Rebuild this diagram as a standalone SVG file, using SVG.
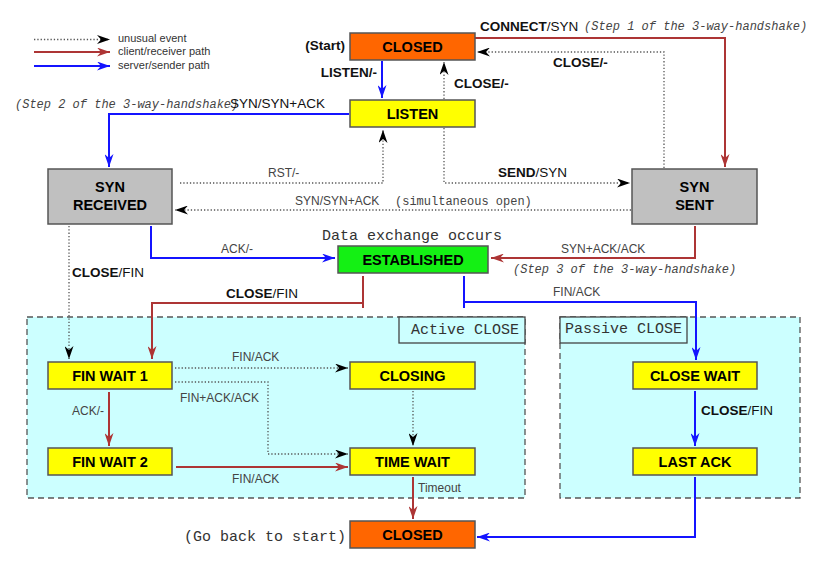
<svg xmlns="http://www.w3.org/2000/svg" width="835" height="562" viewBox="0 0 835 562">
<style>
.node rect{stroke:#555;stroke-width:1.5}
.ntext{font-family:"Liberation Sans",Arial,sans-serif;font-weight:bold;font-size:14.5px;fill:#000;text-anchor:middle}
.closed{fill:#ff6600}
.yellow{fill:#ffff00}
.gray{fill:#c0c0c0}
.green{fill:#14f014}
.cluster{fill:#ccffff;stroke:#555;stroke-width:1.3;stroke-dasharray:6,4}
.clabel{fill:#ccffff;stroke:#444;stroke-width:1.3}
.red{fill:none;stroke:#ad3535;stroke-width:2}
.blue{fill:none;stroke:#1414ff;stroke-width:2}
.dot{fill:none;stroke:#555;stroke-width:1.3;stroke-dasharray:1.3,2}
.bl{font-family:"Liberation Sans",Arial,sans-serif;font-size:13.5px;fill:#111}
.b{font-weight:bold}
.gl{font-family:"Liberation Sans",Arial,sans-serif;font-size:12px;fill:#444}
.mono{font-family:"Liberation Mono","Courier New",monospace;fill:#333}
.step{font-family:"Liberation Mono","Courier New",monospace;font-style:italic;font-size:12px;fill:#444}
.sim{font-family:"Liberation Mono","Courier New",monospace;font-size:12px;fill:#444}
.leg{font-family:"Liberation Sans",Arial,sans-serif;font-size:11px;fill:#333}
</style>
<defs>
<marker id="ar" viewBox="0 0 13 9" refX="13" refY="4.5" markerWidth="13" markerHeight="9" markerUnits="userSpaceOnUse" orient="auto"><path d="M0,0 L13,4.5 L0,9 L4,4.5 z" fill="#ad3535"/></marker>
<marker id="ab" viewBox="0 0 13 9" refX="13" refY="4.5" markerWidth="13" markerHeight="9" markerUnits="userSpaceOnUse" orient="auto"><path d="M0,0 L13,4.5 L0,9 L4,4.5 z" fill="#1414ff"/></marker>
<marker id="ak" viewBox="0 0 13 9" refX="13" refY="4.5" markerWidth="13" markerHeight="9" markerUnits="userSpaceOnUse" orient="auto"><path d="M0,0 L13,4.5 L0,9 L4,4.5 z" fill="#000"/></marker>
</defs>
<rect width="835" height="562" fill="#fff"/>

<g id="clusters">
<rect class="cluster" x="27" y="317" width="498" height="181"/>
<rect class="clabel" x="399" y="317" width="126" height="26"/>
<text class="mono" x="411" y="334" font-size="15">Active CLOSE</text>
<rect class="cluster" x="560" y="317" width="240" height="181"/>
<rect class="clabel" x="560" y="317" width="127" height="26"/>
<text class="mono" x="565" y="333" font-size="15">Passive CLOSE</text>
</g>

<g id="legend">
<line class="dot" x1="34" y1="39.5" x2="110" y2="39.5" marker-end="url(#ak)"/>
<line class="red" x1="34" y1="52" x2="110" y2="52" marker-end="url(#ar)"/>
<line class="blue" x1="34" y1="66" x2="110" y2="66" marker-end="url(#ab)"/>
<text class="leg" x="118" y="42">unusual event</text>
<text class="leg" x="118" y="55">client/receiver path</text>
<text class="leg" x="118" y="68.5">server/sender path</text>
</g>

<g id="connectors">
<path class="blue" d="M382,61 V98" marker-end="url(#ab)"/>
<path class="dot" d="M444,99 V62" marker-end="url(#ak)"/>
<path class="red" d="M475,38 H725 V167" marker-end="url(#ar)"/>
<path class="dot" d="M664,168 V52 H477" marker-end="url(#ak)"/>
<path class="blue" d="M349,114 H109 V167" marker-end="url(#ab)"/>
<path class="dot" d="M180,183 H383 V130" marker-end="url(#ak)"/>
<path class="dot" d="M444,128 V183 H630" marker-end="url(#ak)"/>
<path class="dot" d="M631,210 H175" marker-end="url(#ak)"/>
<path class="blue" d="M151,226 V258 H335" marker-end="url(#ab)"/>
<path class="red" d="M695,226 V258 H491" marker-end="url(#ar)"/>
<path class="red" d="M363,276 V308 M363,303 H152 V359" marker-end="url(#ar)"/>
<path class="blue" d="M464,276 V308 M464,302 H696 V360" marker-end="url(#ab)"/>
<path class="dot" d="M69,226 V359" marker-end="url(#ak)"/>
<path class="dot" d="M175,368 H348" marker-end="url(#ak)"/>
<path class="dot" d="M175,382 H268 V454 H348" marker-end="url(#ak)"/>
<path class="red" d="M109,392 V446" marker-end="url(#ar)"/>
<path class="red" d="M176,467 H348" marker-end="url(#ar)"/>
<path class="dot" d="M413,391 V446" marker-end="url(#ak)"/>
<path class="red" d="M413,477 V519" marker-end="url(#ar)"/>
<path class="blue" d="M695,391 V446" marker-end="url(#ab)"/>
<path class="blue" d="M695,477 V537 H477" marker-end="url(#ab)"/>
</g>

<g id="labels">
<text class="bl b" x="345" y="50" text-anchor="end" font-size="13">(Start)</text>
<text class="bl b" x="377" y="77" text-anchor="end">LISTEN/-</text>
<text class="bl b" x="454" y="88">CLOSE/-</text>
<text class="bl b" x="553" y="67" font-size="12">CLOSE/-</text>
<text class="bl" x="480" y="31"><tspan class="b">CONNECT</tspan>/SYN</text>
<text class="step" x="584" y="30">(Step 1 of the 3-way-handshake)</text>
<text class="step" x="15" y="108" font-size="11.7">(Step 2 of the 3-way-handshake)</text>
<text class="bl" x="230" y="108" fill="#000">SYN/SYN+ACK</text>
<text class="gl" x="268" y="177">RST/-</text>
<text class="bl" x="498" y="177"><tspan class="b">SEND</tspan>/SYN</text>
<text class="gl" x="295" y="205">SYN/SYN+ACK</text>
<text class="sim" x="395" y="205">(simultaneous open)</text>
<text class="mono" x="322" y="240" font-size="15">Data exchange occurs</text>
<text class="gl" x="221" y="253">ACK/-</text>
<text class="gl" x="561" y="253">SYN+ACK/ACK</text>
<text class="step" x="513" y="273">(Step 3 of the 3-way-handshake)</text>
<text class="bl" x="72" y="277"><tspan class="b">CLOSE</tspan>/FIN</text>
<text class="bl" x="226" y="298"><tspan class="b">CLOSE</tspan>/FIN</text>
<text class="gl" x="553" y="296">FIN/ACK</text>
<text class="gl" x="232" y="361">FIN/ACK</text>
<text class="gl" x="180" y="402">FIN+ACK/ACK</text>
<text class="gl" x="72" y="415">ACK/-</text>
<text class="gl" x="232" y="483">FIN/ACK</text>
<text class="gl" x="418" y="492">Timeout</text>
<text class="bl" x="701" y="415"><tspan class="b">CLOSE</tspan>/FIN</text>
<text class="mono" x="184" y="541" font-size="15">(Go back to start)</text>
</g>

<g id="closed" class="node"><rect class="closed" x="350" y="33" width="125" height="27"/><text class="ntext" x="412.5" y="51.5">CLOSED</text></g>
<g id="listen" class="node"><rect class="yellow" x="350" y="100" width="125" height="27"/><text class="ntext" x="412.5" y="118.5">LISTEN</text></g>
<g id="syn_received" class="node"><rect class="gray" x="48" y="169" width="124" height="55"/><text class="ntext" x="110" y="192">SYN</text><text class="ntext" x="110" y="210">RECEIVED</text></g>
<g id="syn_sent" class="node"><rect class="gray" x="632" y="169" width="125" height="55"/><text class="ntext" x="694.5" y="192">SYN</text><text class="ntext" x="694.5" y="210">SENT</text></g>
<g id="established" class="node"><rect class="green" x="338" y="246" width="150" height="27"/><text class="ntext" x="413" y="264.5">ESTABLISHED</text></g>
<g id="fin_wait_1" class="node"><rect class="yellow" x="48" y="362" width="124" height="27"/><text class="ntext" x="110" y="380.5">FIN WAIT 1</text></g>
<g id="closing" class="node"><rect class="yellow" x="350" y="362" width="125" height="27"/><text class="ntext" x="412.5" y="380.5">CLOSING</text></g>
<g id="fin_wait_2" class="node"><rect class="yellow" x="48" y="448" width="124" height="27"/><text class="ntext" x="110" y="466.5">FIN WAIT 2</text></g>
<g id="time_wait" class="node"><rect class="yellow" x="350" y="448" width="125" height="27"/><text class="ntext" x="412.5" y="466.5">TIME WAIT</text></g>
<g id="close_wait" class="node"><rect class="yellow" x="633" y="362" width="124" height="27"/><text class="ntext" x="695" y="380.5">CLOSE WAIT</text></g>
<g id="last_ack" class="node"><rect class="yellow" x="633" y="448" width="124" height="27"/><text class="ntext" x="695" y="466.5">LAST ACK</text></g>
<g id="closed_end" class="node"><rect class="closed" x="350" y="521" width="125" height="27"/><text class="ntext" x="412.5" y="539.5">CLOSED</text></g>
</svg>
